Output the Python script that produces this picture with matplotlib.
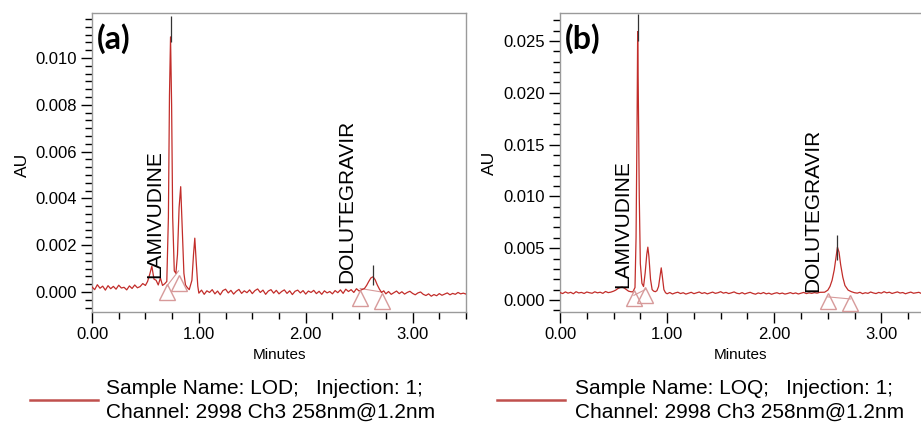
import numpy as np
import matplotlib
matplotlib.use("Agg")
import matplotlib.pyplot as plt
from matplotlib.ticker import MultipleLocator, AutoMinorLocator, FormatStrFormatter
from matplotlib.lines import Line2D

plt.rcParams['font.family'] = ['Liberation Sans', 'DejaVu Sans']

# ---- panel (a): LOD, values in 1e-3 AU ----
a_t0 = [0.00, 0.025, 0.05, 0.075, 0.10, 0.125, 0.15, 0.175, 0.20, 0.225, 0.25, 0.275,
        0.30, 0.325, 0.35, 0.375, 0.40, 0.425, 0.45, 0.475, 0.50]
a_v0 = [0.22, 0.10, 0.31, 0.16, 0.25, 0.08, 0.27, 0.14, 0.24, 0.12, 0.29, 0.17,
        0.20, 0.09, 0.26, 0.15, 0.30, 0.18, 0.23, 0.36, 0.28]
a_t1 = [0.52, 0.54, 0.56, 0.58, 0.60, 0.62, 0.64, 0.66, 0.68, 0.70, 0.715, 0.725, 0.735,
        0.745, 0.755, 0.77, 0.785, 0.80, 0.815, 0.83, 0.845, 0.86, 0.875, 0.89, 0.91,
        0.935, 0.95, 0.962, 0.975, 0.99]
a_v1 = [0.45, 0.75, 1.10, 0.55, 0.50, 0.30, 0.60, 0.28, 0.35, 0.45, 3.2, 8.4, 10.9,
        8.0, 3.2, 0.9, 0.8, 1.6, 3.6, 4.5, 2.6, 0.8, 0.3, 0.2, 0.1,
        0.5, 1.6, 2.3, 1.3, 0.25]
a_v2 = [-0.05, 0.08, -0.10, 0.05, -0.02, 0.10, -0.08, 0.04, -0.12, 0.06, 0.12, -0.04,
        0.07, -0.09, 0.03, 0.11, -0.06, 0.05, -0.03, 0.09, -0.07, 0.06, 0.13, -0.02,
        0.08, -0.10, 0.04, 0.10, -0.05, 0.07, -0.08, 0.02, 0.09, -0.06, 0.05, -0.11,
        0.03, 0.08, -0.04, 0.06, -0.09, 0.04, -0.02, 0.07, -0.07, 0.03, -0.10, 0.05,
        -0.04, 0.02, -0.08, 0.06, -0.03, 0.09, -0.06, 0.12, 0.02, 0.10, -0.02, 0.14,
        0.04, 0.10]  # from 1.00 every 0.025 min
a_t3 = [2.55, 2.57, 2.59, 2.61, 2.63, 2.65, 2.67, 2.69, 2.71, 2.73]
a_v3 = [0.15, 0.28, 0.45, 0.60, 0.65, 0.52, 0.30, 0.12, -0.02, 0.05]
a_v4 = [-0.08, 0.02, -0.10, -0.03, 0.04, -0.07, 0.01, -0.09, -0.02, 0.03, -0.06,
        -0.12, -0.04, 0.00, -0.10, -0.15, -0.08, -0.18, -0.11, -0.16, -0.07, -0.14,
        -0.09, -0.04, -0.12, -0.06, -0.10, -0.02, -0.08, -0.05, -0.09]  # from 2.75

a_tri_t = [0.70, 0.81, 2.51, 2.71]
a_tri_v = [0.0, 0.40, -0.25, -0.40]
a_apex_t = [0.735, 2.63]
a_apex_lo = [10.7, 0.30]
a_apex_hi = [11.8, 1.15]

# ---- panel (b): LOQ, values in 1e-3 AU ----
b_v0 = [0.72, 0.62, 0.78, 0.66, 0.74, 0.60, 0.80, 0.68, 0.73, 0.63, 0.77, 0.70,
        0.65, 0.79, 0.69, 0.75, 0.64, 0.82, 0.71, 0.76, 0.85]  # from 0.00
b_t1 = [0.52, 0.54, 0.56, 0.58, 0.60, 0.62, 0.64, 0.66, 0.68, 0.70, 0.71, 0.72, 0.725,
        0.73, 0.74, 0.75, 0.765, 0.78, 0.795, 0.81, 0.82, 0.83, 0.845, 0.86, 0.875,
        0.89, 0.905, 0.92, 0.935, 0.945, 0.955, 0.97, 0.985]
b_v1 = [0.95, 1.10, 1.20, 1.25, 1.15, 1.00, 0.85, 0.80, 0.78, 1.2, 6.0, 18.0, 25.9,
        21.0, 10.0, 3.5, 1.6, 1.3, 2.6, 4.4, 5.1, 4.2, 2.0, 1.0, 0.85,
        0.8, 0.9, 1.3, 2.4, 3.1, 2.3, 1.0, 0.7]
b_v2 = [0.60, 0.72, 0.58, 0.68, 0.75, 0.62, 0.70, 0.57, 0.66, 0.74, 0.61, 0.69,
        0.77, 0.63, 0.71, 0.59, 0.67, 0.76, 0.64, 0.70, 0.80, 0.66, 0.73, 0.62,
        0.69, 0.78, 0.65, 0.60, 0.71, 0.58, 0.67, 0.74, 0.63, 0.56, 0.68, 0.61,
        0.72, 0.59, 0.66, 0.55, 0.64, 0.70, 0.60, 0.67, 0.57, 0.63, 0.71, 0.61,
        0.68, 0.58, 0.66, 0.73, 0.62, 0.69, 0.64, 0.71, 0.66, 0.74]  # from 1.00
b_t3 = [2.47, 2.50, 2.52, 2.54, 2.56, 2.575, 2.59, 2.605, 2.62, 2.64, 2.66, 2.69,
        2.72, 2.75]
b_v3 = [0.75, 0.95, 1.3, 1.9, 2.9, 4.0, 5.1, 4.6, 3.4, 2.2, 1.4, 0.95, 0.8, 0.7]
b_v4 = [0.66, 0.74, 0.61, 0.70, 0.64, 0.77, 0.68, 0.62, 0.73, 0.66, 0.80, 0.69,
        0.75, 0.63, 0.71, 0.78, 0.67, 0.72, 0.60, 0.69, 0.76, 0.65, 0.70, 0.74,
        0.62, 0.68]  # from 2.775

b_tri_t = [0.69, 0.795, 2.50, 2.71]
b_tri_v = [0.2, 0.5, -0.1, -0.3]
b_apex_t = [0.725, 2.59]
b_apex_lo = [25.0, 3.9]
b_apex_hi = [27.6, 6.3]


def build(segs):
    t = np.concatenate([s[0] for s in segs])
    v = np.concatenate([s[1] for s in segs])
    return t, v * 1e-3


step = 0.025
ta, ya = build([
    (np.array(a_t0), np.array(a_v0)),
    (np.array(a_t1), np.array(a_v1)),
    (1.00 + step * np.arange(len(a_v2)), np.array(a_v2)),
    (np.array(a_t3), np.array(a_v3)),
    (2.75 + step * np.arange(len(a_v4)), np.array(a_v4)),
])
tb, yb = build([
    (step * np.arange(len(b_v0)), np.array(b_v0)),
    (np.array(b_t1), np.array(b_v1)),
    (1.00 + step * np.arange(len(b_v2)), np.array(b_v2)),
    (np.array(b_t3), np.array(b_v3)),
    (2.775 + step * np.arange(len(b_v4)), np.array(b_v4)),
])

trace_col = '#c22d2a'
tri_col = '#d79a9a'
spine_col = '#9a9a9a'

fig = plt.figure(figsize=(9.21, 4.23), dpi=100)
ax_a = fig.add_axes([92 / 921, 1 - 312 / 423, 374 / 921, 299 / 423])
ax_b = fig.add_axes([560 / 921, 1 - 312 / 423, 361 / 921, 299 / 423])


def style(ax, ylim, xmax, ymajor, yminor_n):
    ax.set_xlim(0, xmax)
    ax.set_ylim(*ylim)
    ax.xaxis.set_major_locator(MultipleLocator(1.0))
    ax.xaxis.set_minor_locator(AutoMinorLocator(4))
    ax.xaxis.set_major_formatter(FormatStrFormatter('%.2f'))
    ax.yaxis.set_major_locator(MultipleLocator(ymajor))
    ax.yaxis.set_minor_locator(AutoMinorLocator(yminor_n))
    ax.yaxis.set_major_formatter(FormatStrFormatter('%.3f'))
    ax.tick_params(axis='both', which='major', length=8, width=1, labelsize=12,
                   color='black', direction='out', pad=3)
    ax.tick_params(axis='both', which='minor', length=5, width=1, color='black',
                   direction='out')
    for sp in ax.spines.values():
        sp.set_color(spine_col)
        sp.set_linewidth(1)
    ax.set_xlabel('Minutes', fontsize=11, labelpad=4)


style(ax_a, (-0.000855, 0.01192), 3.5, 0.002, 6)
style(ax_b, (-0.00116, 0.0277), 3.37, 0.005, 5)
ax_b.spines['right'].set_visible(False)

panels = [
    (ax_a, ta, ya, a_tri_t, a_tri_v, a_apex_t, a_apex_lo, a_apex_hi, '(a)',
     (0.59, 0.6), (2.38, 0.4)),
    (ax_b, tb, yb, b_tri_t, b_tri_v, b_apex_t, b_apex_lo, b_apex_hi, '(b)',
     (0.59, 1.2), (2.36, 0.8)),
]

for ax, t, y, tri_t, tri_v, ap_t, ap_lo, ap_hi, tag, lam_pos, dol_pos in panels:
    ax.plot(t, y, color=trace_col, lw=0.9, zorder=3)
    # integration baselines
    ax.plot([tri_t[0], tri_t[1]], [tri_v[0] * 1e-3 + 0.00025, tri_v[1] * 1e-3 + 0.0005],
            color=tri_col, lw=0.8, zorder=2)
    ax.plot([tri_t[2], tri_t[3]], [tri_v[2] * 1e-3 + 0.0004, tri_v[3] * 1e-3 + 0.0004],
            color=tri_col, lw=0.8, zorder=2)
    ax.plot(tri_t, np.array(tri_v) * 1e-3, linestyle='none', marker='^',
            markersize=11, markerfacecolor='none', markeredgecolor=tri_col,
            markeredgewidth=1, zorder=4)
    ax.vlines(ap_t, np.array(ap_lo) * 1e-3, np.array(ap_hi) * 1e-3,
              color='#333333', lw=0.9, zorder=5)
    ax.text(lam_pos[0], lam_pos[1] * 1e-3, 'LAMIVUDINE', rotation=90, fontsize=15,
            ha='center', va='bottom', zorder=6)
    ax.text(dol_pos[0], dol_pos[1] * 1e-3, 'DOLUTEGRAVIR', rotation=90, fontsize=15,
            ha='center', va='bottom', zorder=6)
    ax.text(0.013, 0.915, tag, transform=ax.transAxes, fontsize=23,
            fontweight='bold', family=['Lato', 'DejaVu Sans'], ha='left', va='center')

fig.text(22 / 921, 1 - 165 / 423, 'AU', rotation=90, fontsize=12.5,
         ha='center', va='center')
fig.text(489 / 921, 1 - 163 / 423, 'AU', rotation=90, fontsize=12.5,
         ha='center', va='center')

legend_items = [
    (30, 98, 106, 'Sample Name: LOD;   Injection: 1;'),
    (497, 565, 575, 'Sample Name: LOQ;   Injection: 1;'),
]
for x0, x1, xt, line1 in legend_items:
    fig.add_artist(Line2D([x0 / 921, x1 / 921], [1 - 400 / 423, 1 - 400 / 423],
                          color='#c0504d', lw=1.8))
    fig.text(xt / 921, 1 - 388 / 423, line1, fontsize=15, ha='left', va='center')
    fig.text(xt / 921, 1 - 412 / 423, 'Channel: 2998 Ch3 258nm@1.2nm', fontsize=15,
             ha='left', va='center')

fig.savefig('out.png', dpi=100)
